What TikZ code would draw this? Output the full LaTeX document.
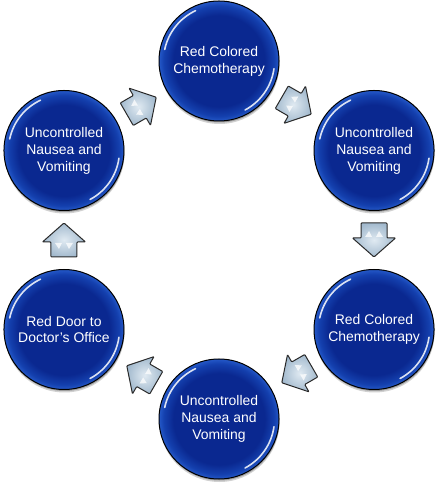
\documentclass[tikz,border=0pt]{standalone}
\usepackage{fontspec}
\setmainfont{Liberation Sans}
\usetikzlibrary{calc,shadows}
\definecolor{ballin}{HTML}{0A2890}
\definecolor{ballmid}{HTML}{1440AE}
\definecolor{ballout}{HTML}{2458C8}
\definecolor{arrlight}{HTML}{E0EAF2}
\definecolor{arrdark}{HTML}{A3BACE}
\definecolor{arredge}{HTML}{2A2A2A}
\pgfdeclareradialshading{ballshade}{\pgfpoint{0bp}{0bp}}{color(0bp)=(ballin); color(19bp)=(ballin); color(23bp)=(ballmid); color(25bp)=(ballout); color(50bp)=(ballout)}
\tikzset{
  ball/.style={circle, minimum size=120bp, inner sep=0pt, draw=black, line width=1bp,
    shading=ballshade, text=white, align=center,
    font=\fontsize{14}{17}\selectfont,
    drop shadow={shadow xshift=0.5bp, shadow yshift=-3bp, opacity=0.18, fill=black},
    drop shadow={shadow xshift=0.5bp, shadow yshift=-1.5bp, opacity=0.25, fill=black}},
  gloss/.style={white, line width=1.6bp, opacity=0.85, line cap=round},
  arrowbody/.style={draw=arredge, line width=1bp, rounded corners=0.8bp,
    inner color=arrlight, outer color=arrdark},
  barrow/.pic={
    \draw[arrowbody] (-17,-13) -- (-2,-13) -- (-2,-21.5) -- (17,0) -- (-2,21.5) -- (-2,13) -- (-17,13) -- cycle;
    \fill[white, opacity=0.75] (-9,5) -- (-3,9) -- (-3,2) -- cycle;
    \fill[white, opacity=0.75] (-9,-5) -- (-3,-9) -- (-3,-2) -- cycle;
  }
}
\begin{document}
\begin{tikzpicture}[x=1bp, y=1bp]
\useasboundingbox (0,0) rectangle (438,486);
\coordinate (O) at (219,246);
\node[ball] (n1) at ([shift={(90:179)}]O) {Red Colored\\Chemotherapy};
\node[ball] (n2) at ([shift={(30:179)}]O) {Uncontrolled\\Nausea and\\Vomiting};
\node[ball] (n3) at ([shift={(-30:179)}]O) {Red Colored\\Chemotherapy};
\node[ball] (n4) at ([shift={(-90:179)}]O) {Uncontrolled\\Nausea and\\Vomiting};
\node[ball] (n5) at ([shift={(-150:179)}]O) {Red Door to\\Doctor's Office};
\node[ball] (n6) at ([shift={(150:179)}]O) {Uncontrolled\\Nausea and\\Vomiting};
\foreach \n in {n1,n2,n3,n4,n5,n6}{
  \draw[gloss] ([shift={(115:55.5)}]\n.center) arc[start angle=115, end angle=168, radius=55.5];
  \draw[gloss] ([shift={(-8:55.5)}]\n.center) arc[start angle=-8, end angle=-62, radius=55.5];
}
\pic[rotate=-30] at ($(n1)!0.5!(n2)$) {barrow};
\pic[rotate=-90] at ($(n2)!0.5!(n3)$) {barrow};
\pic[rotate=-150] at ($(n3)!0.5!(n4)$) {barrow};
\pic[rotate=150] at ($(n4)!0.5!(n5)$) {barrow};
\pic[rotate=90] at ($(n5)!0.5!(n6)$) {barrow};
\pic[rotate=30] at ($(n6)!0.5!(n1)$) {barrow};
\end{tikzpicture}
\end{document}
